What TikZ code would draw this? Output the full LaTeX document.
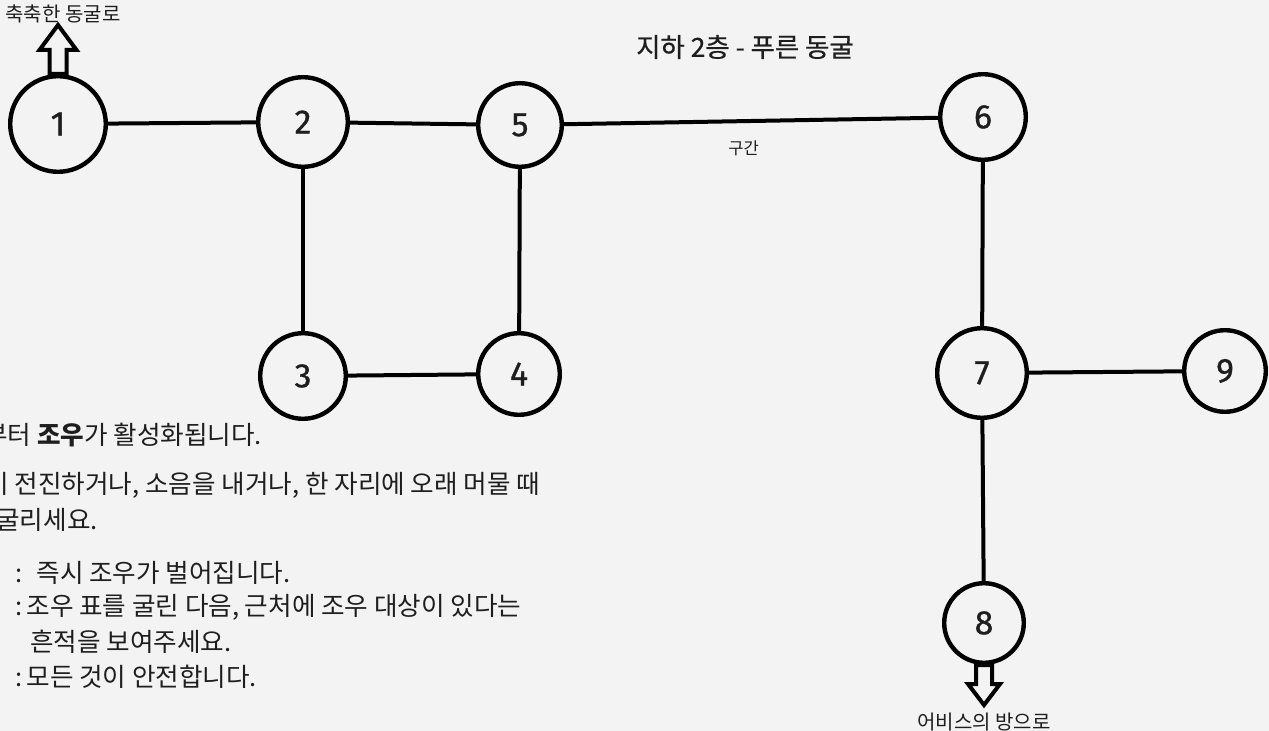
\documentclass[tikz,border=0pt]{standalone}
\usepackage{fontspec}
\setmainfont{Noto Sans CJK KR}
\newfontfamily\numfont[FakeBold=0.8]{Fira Sans}
\newfontfamily\titlefont[FakeBold=0.6]{Noto Sans CJK KR}
\usepackage{xcolor}
\usepackage{tikz}
\definecolor{bgpaper}{HTML}{F3F3F3}
\definecolor{inkgray}{HTML}{1E1E1E}

\begin{document}
\begin{tikzpicture}[x=0.5pt,y=-0.5pt,
    room/.style={draw=black, line width=2.2pt, circle, minimum size=43pt,
        inner sep=0pt, text=inkgray, font=\numfont\fontsize{17}{19}\selectfont},
    passage/.style={draw=black, line width=2pt},
    exitarrow/.style={draw=black, line width=2pt, fill=bgpaper, line join=miter},
    exitlabel/.style={inner sep=0pt, text=inkgray, font=\fontsize{10}{12}\selectfont},
    note/.style={anchor=west, inner sep=0pt, text=inkgray, font=\fontsize{12.8}{15}\selectfont}]

    % 배경
    \fill[bgpaper] (0,0) rectangle (1269,731);
    \useasboundingbox (0,0) rectangle (1269,731);

    % 제목
    \node[inner sep=0pt, text=inkgray, font=\titlefont\fontsize{13.2}{16}\selectfont] (title) at (745,47) {지하 2층 - 푸른 동굴};

    % 방 노드
    \node[room, minimum size=47.8pt] (r1) at (58,124) {1};
    \node[room, minimum size=44.8pt] (r2) at (303,122) {2};
    \node[room, minimum size=42.8pt] (r3) at (303,376) {3};
    \node[room, minimum size=40.8pt] (r4) at (519,374) {4};
    \node[room, minimum size=41.8pt] (r5) at (520,125) {5};
    \node[room, minimum size=42.8pt] (r6) at (983,117) {6};
    \node[room, minimum size=44.8pt] (r7) at (982,373) {7};
    \node[room, minimum size=39.8pt] (r8) at (984,623) {8};
    \node[room, minimum size=40.8pt] (r9) at (1225,371) {9};

    % 통로
    \draw[passage] (r1) -- (r2);
    \draw[passage] (r2) -- (r5);
    \draw[passage] (r2) -- (r3);
    \draw[passage] (r3) -- (r4);
    \draw[passage] (r5) -- (r4);
    \draw[passage] (r5) -- (r6)
        node[pos=0.48, below=9pt, inner sep=0pt, text=inkgray, font=\fontsize{8.3}{10}\selectfont] (gugan) {구간};
    \draw[passage] (r6) -- (r7);
    \draw[passage] (r7) -- (r9);
    \draw[passage] (r7) -- (r8);

    % 출구 화살표
    \draw[exitarrow] ([xshift=-4.25pt]r1.north) -- ++(0,-24) -- ++(-10,0) -- ++(18.5,-25)
        -- ++(18.5,25) -- ++(-10,0) -- ++(0,24) -- cycle;
    \node[exitlabel] (upexit) at (63,14) {축축한 동굴로};
    \draw[exitarrow] ([xshift=-4pt]r8.south) -- ++(0,19) -- ++(-8,0) -- ++(16,21)
        -- ++(16,-21) -- ++(-8,0) -- ++(0,-19) -- cycle;
    \node[exitlabel] (downexit) at (984,722) {어비스의 방으로};

    % 설명 텍스트
    \node[note] (note1) at (-16,435) {부터 \textbf{조우}가 활성화됩니다.};
    \node[note] (note2) at (-15,485) {이 전진하거나, 소음을 내거나, 한 자리에 오래 머물 때};
    \node[note] (note3) at (-4,520) {굴리세요.};
    \node[note] (note4) at (15,573) {:\hspace{7pt}즉시 조우가 벌어집니다.};
    \node[note] (note5) at (15,607) {:\hspace{2pt}조우 표를 굴린 다음, 근처에 조우 대상이 있다는};
    \node[note] (note6) at (30,642) {흔적을 보여주세요.};
    \node[note] (note7) at (15,677) {:\hspace{2pt}모든 것이 안전합니다.};

\end{tikzpicture}
\end{document}
